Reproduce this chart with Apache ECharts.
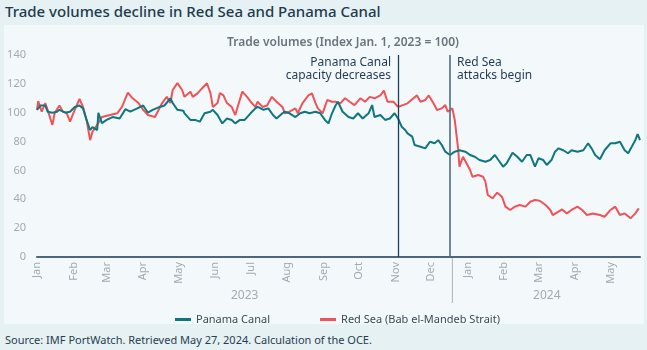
<!DOCTYPE html>
<html>
<head>
<meta charset="utf-8">
<script src="https://cdn.jsdelivr.net/npm/echarts@6/dist/echarts.min.js"></script>
<style>
html,body{margin:0;padding:0;background:#e5f1f3;}
#wrap{position:relative;width:647px;height:350px;background:#e5f1f3;}
#panel{position:absolute;left:4px;top:25px;width:640px;height:299px;background:#f3f9fa;}
#title{position:absolute;left:5px;top:1px;font-family:"Noto Sans",sans-serif;font-weight:500;font-size:15px;color:#1d3a4f;}
#source{position:absolute;left:5px;top:332px;font-family:"Noto Sans",sans-serif;font-size:11px;color:#2a3d50;}
#chart{position:absolute;left:0;top:0;width:647px;height:350px;}
</style>
</head>
<body>
<div id="wrap">
<div id="panel"></div>
<div id="title">Trade volumes decline in Red Sea and Panama Canal</div>
<div id="source">Source: IMF PortWatch. Retrieved May 27, 2024. Calculation of the OCE.</div>
<div id="chart"></div>
</div>
<script>
// Days counted from Jan 1, 2023
const startDate = '2023-01-01';
const lastDay = 511;
const monthLabels = ['Jan','Feb','Mar','Apr','May','Jun','Jul','Aug','Sep','Oct','Nov','Dec'];
const yearLabels = ['2023','2024'];
const yTicks = [0,20,40,60,80,100,120,140];

const redDays = [0,1,4,7,9,13,15,19,22,25,28,31,36,39,42,45,47,52,55,62,68,72,77,81,86,90,94,100,106,110,113,115,119,123,
125,130,132,136,140,144,147,149,153,155,158,161,165,168,170,174,178,182,185,187,191,195,199,203,208,210,214,219,221,225,230,233,236,238,242,246,250,
253,257,261,265,269,274,278,282,286,291,294,297,302,306,310,314,319,322,325,329,332,336,339,343,346,348,352,354,357,358,361,364,367,369,374,378,
380,382,386,390,394,397,401,405,409,414,418,422,426,431,435,437,442,445,449,453,458,462,466,471,477,481,486,490,494,498,503,507,510];
const redValues = [102,108,100.7,106.7,102,91.5,99.8,105,100.7,100,93.8,100,109.5,104,95,81,86.8,92.8,97,98.4,99.6,104,113.9,110,106.7,102,98.4,97,106.7,111,106.7,115.7,120.5,115.7,
111,114.6,111,113.4,117,120.4,113.6,104,106.7,113.6,112,106.7,104,98.4,104,114.6,111,106.7,104,107.6,104,105,111,107.6,104,99.6,100.7,103,99.6,106.7,112,113.4,106.7,103,99.6,108.8,107.6,
107.6,106.5,110,107.6,105.3,110,107.6,111,110,112,115.3,107.6,107.6,104,105.3,106.5,110,112,107.6,108.8,112,106.5,101.9,103,105.3,100.7,103,95,74,62.6,69.5,65,60.3,55.6,56.8,55.6,
52.2,43,40.7,44.6,41.8,34.9,32.6,34.9,36,34.9,38.3,39.5,39,36,32.6,29.1,31.4,33,30.2,32.6,34.9,32.6,29.1,30.2,29.1,27.9,32.6,34.9,29.1,30.2,26.8,30.2,33.7];

const panamaDays = [0,3,7,9,13,17,19,24,28,32,36,39,42,45,47,51,52,55,59,64,70,75,79,85,90,94,98,104,108,113,115,119,124,
125,130,134,138,142,147,149,153,157,161,165,168,172,176,181,185,187,192,196,200,203,208,210,214,219,223,227,231,236,240,244,247,250,253,
255,259,264,268,272,276,281,284,286,291,295,299,303,306,309,312,314,318,320,325,329,333,337,340,343,346,350,354,358,363,367,371,375,
380,384,388,391,395,398,403,407,411,415,418,422,425,429,432,436,439,442,446,450,453,458,463,467,470,473,477,481,486,490,494,498,501,504,507,509,511];
const panamaValues = [102,105,105,100.7,100,100.7,102,100,100.7,104,105,103,95,88,90,88,100,92.8,95,97,96,102.5,100.7,103,105,100,102,104,105,110,106.7,102,101.4,
99.6,95,95,93.8,99.6,100.7,102,98.4,92.6,96,95,92.6,95,95,99.6,103,104,102,103,98.4,96,99.6,100.7,99.6,97,99.6,100.7,99.6,100.7,99.6,95,92.6,99.6,105,
107.6,100.7,97,96,99.6,96,99.6,105.3,97,98.4,95,96,99.6,96,90.3,88,85.7,83.4,77.6,76.4,75.3,79.9,78.8,81,77.6,73,70.7,73,74,73,70.7,69.5,67.2,
66,67.2,70.7,67.2,62.6,65,72.3,69.5,66,70.7,70.7,62.6,68.4,67.2,63.8,67.2,73,75.3,74,71.9,74,73,74,78.8,75.3,70.7,67.7,74,78.8,78.8,79.9,74,71.9,76.4,81,85.2,81];

const panamaEventDay = 306;   // Nov 3, 2023
const redSeaEventDay = 350;   // Dec 17, 2023
const yearDividerDay = 352;

function dayToDate(d){
  const t = new Date(startDate + 'T00:00:00Z');
  t.setUTCDate(t.getUTCDate() + d);
  return t;
}
const categories = [];
for (let d = 0; d <= lastDay; d++) {
  categories.push(dayToDate(d).toISOString().slice(0,10));
}
function pairs(days, vals){ return days.map((d,i)=>[d, vals[i]]); }

const FONT = '"Noto Sans", sans-serif';
const chart = echarts.init(document.getElementById('chart'), null, {renderer:'canvas'});
const option = {
  animation:false,
  backgroundColor:'transparent',
  title:{
    text:'Trade volumes (Index Jan. 1, 2023 = 100)',
    left:338, top:32, textAlign:'center',
    textStyle:{fontFamily:FONT,fontSize:12,fontWeight:600,color:'#6a747d'}
  },
  legend:{
    left:170, top:309,
    itemWidth:16, itemHeight:3, itemGap:50,
    icon:'rect',
    textStyle:{fontFamily:FONT,fontSize:11,color:'#3b4a58'},
    data:['Panama Canal','Red Sea (Bab el-Mandeb Strait)']
  },
  grid:{left:37,right:7,top:55,bottom:93,containLabel:false},
  xAxis:{
    type:'category',
    data:categories,
    boundaryGap:false,
    axisLine:{lineStyle:{color:'#4d6679',width:2}},
    axisTick:{show:false},
    axisLabel:{
      rotate:90,
      fontFamily:FONT,fontSize:11,color:'#a2aab2',margin:5,
      interval:(idx,val)=>val.slice(8,10)==='01',
      formatter:(val)=>monthLabels[parseInt(val.slice(5,7),10)-1]
    },
    splitLine:{show:false}
  },
  yAxis:{
    type:'value', min:0, max:140, interval:20,
    axisLine:{show:false}, axisTick:{show:false},
    splitLine:{show:false},
    axisLabel:{fontFamily:FONT,fontSize:11,color:'#a2aab2',margin:11,
      formatter:(v)=> yTicks.includes(v) ? String(v) : ''}
  },
  series:[
    {
      name:'Red Sea (Bab el-Mandeb Strait)', type:'line',
      data:pairs(redDays, redValues),
      showSymbol:false, symbol:'none',
      lineStyle:{color:'#ef5258',width:2},
      itemStyle:{color:'#ef5258'},
      z:2,
      markLine:{
        silent:true, symbol:'none', label:{show:false},
        data:[
          {xAxis:panamaEventDay, lineStyle:{color:'#1f3d5e',width:1.3,type:'solid'}},
          {xAxis:redSeaEventDay, lineStyle:{color:'#4e6c87',width:1.6,type:'solid'}}
        ]
      }
    },
    {
      name:'Panama Canal', type:'line',
      data:pairs(panamaDays, panamaValues),
      showSymbol:false, symbol:'none',
      lineStyle:{color:'#0f7680',width:2},
      itemStyle:{color:'#0f7680'},
      z:3
    }
  ]
};
chart.setOption(option);

// annotations & year labels positioned via the chart's own scales
const px = (d,v)=>chart.convertToPixel({gridIndex:0},[d,v]);
const pE = px(panamaEventDay,140), rE = px(redSeaEventDay,140);
const base = px(0,0);
const div = px(yearDividerDay,0);
const c2023 = px(Math.round(yearDividerDay/2),0);
const c2024 = px(Math.round((yearDividerDay+lastDay)/2),0);
chart.setOption({
  graphic:[
    {type:'text', x:pE[0]-7, y:pE[1]+1, style:{text:'Panama Canal\ncapacity decreases', align:'right', verticalAlign:'top', font:'12px '+FONT, fill:'#1f3a56', lineHeight:13}},
    {type:'text', x:rE[0]+7, y:rE[1]+1, style:{text:'Red Sea\nattacks begin', align:'left', verticalAlign:'top', font:'12px '+FONT, fill:'#1f3a56', lineHeight:13}},
    {type:'line', shape:{x1:div[0],y1:div[1],x2:div[0],y2:div[1]+46}, style:{stroke:'#a9b2ba',lineWidth:1}},
    {type:'text', x:c2023[0], y:div[1]+33, style:{text:yearLabels[0], align:'center', verticalAlign:'top', font:'12px '+FONT, fill:'#a2aab2'}},
    {type:'text', x:c2024[0], y:div[1]+33, style:{text:yearLabels[1], align:'center', verticalAlign:'top', font:'12px '+FONT, fill:'#a2aab2'}}
  ]
});
</script>
</body>
</html>
